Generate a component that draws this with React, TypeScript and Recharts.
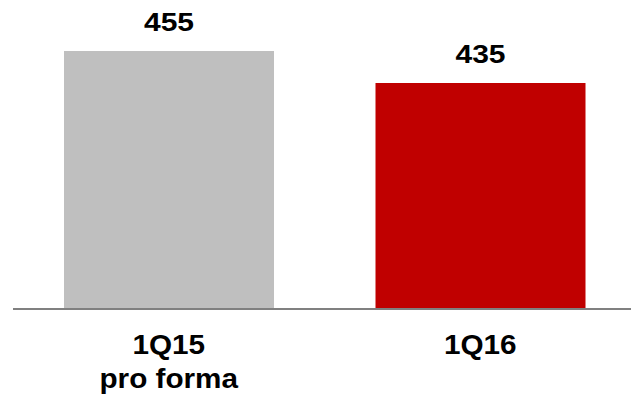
import { BarChart, Bar, XAxis, YAxis, Cell, LabelList } from 'recharts';

const categories = ['1Q15\npro forma', '1Q16'];
const values = [455, 435];
const barColors = ['#BFBFBF', '#C00000'];

const data = categories.map((name, i) => ({ name, value: values[i] }));

const FONT = '"Liberation Sans", Arial, sans-serif';

function ValueLabel(props: any) {
  const { x, y, width, value } = props;
  const cx = x + width / 2;
  const ty = y - 20;
  return (
    <text
      transform={`translate(${cx},${ty}) scale(1.2,1)`}
      textAnchor="middle"
      fontFamily={FONT}
      fontWeight="bold"
      fontSize={25}
      fill="#000"
    >
      {value}
    </text>
  );
}

function CategoryTick(props: any) {
  const { x, y, payload } = props;
  const lines = String(payload.value).split('\n');
  return (
    <g>
      {lines.map((line, i) => (
        <text
          key={i}
          transform={`translate(${x},${y + 37 + i * 34}) scale(1.1,1)`}
          textAnchor="middle"
          fontFamily={FONT}
          fontWeight="bold"
          fontSize={27}
          fill="#000"
        >
          {line}
        </text>
      ))}
    </g>
  );
}

export default function App() {
  return (
    <div
      style={{
        position: 'absolute',
        left: 0,
        top: 0,
        width: 631,
        height: 398,
        overflow: 'hidden',
        background: '#fff',
      }}
    >
      <BarChart
        width={636}
        height={398}
        data={data}
        margin={{ top: 51, right: 0, left: 13, bottom: 0 }}
        barCategoryGap={0}
      >
        <XAxis
          dataKey="name"
          height={89}
          axisLine={{ stroke: '#808080', strokeWidth: 2 }}
          tickLine={false}
          tick={<CategoryTick />}
          interval={0}
        />
        <YAxis hide domain={[294, 455]} allowDataOverflow />
        <Bar dataKey="value" barSize={210} isAnimationActive={false}>
          {data.map((d, i) => (
            <Cell key={d.name} fill={barColors[i]} />
          ))}
          <LabelList dataKey="value" content={<ValueLabel />} />
        </Bar>
      </BarChart>
    </div>
  );
}
